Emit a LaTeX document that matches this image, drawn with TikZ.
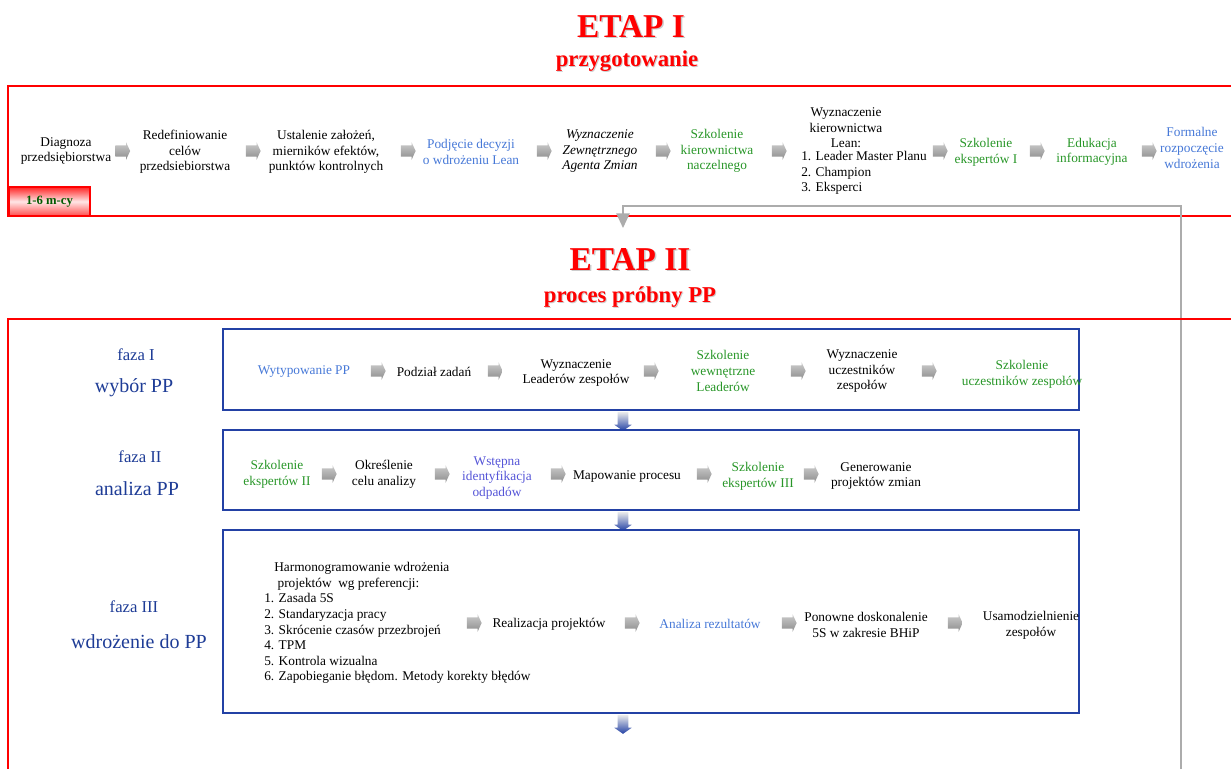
\documentclass[tikz,border=0pt]{standalone}
\usepackage{fontspec}
\setmainfont{Liberation Serif}
\usetikzlibrary{shapes.arrows, arrows.meta}
\definecolor{etapRed}{RGB}{255, 0, 0}
\definecolor{boxBlue}{RGB}{35, 65, 165}
\definecolor{phaseBlue}{RGB}{30, 60, 150}
\definecolor{stepGreen}{RGB}{40, 150, 40}
\definecolor{stepBlue}{RGB}{70, 120, 215}
\definecolor{stepViolet}{RGB}{85, 85, 215}
\definecolor{monthGreen}{RGB}{0, 90, 0}

\begin{document}
\begin{tikzpicture}[x=0.75pt, y=-0.75pt,
    stepText/.style={font=\fontsize{10}{11.7}\selectfont, align=center, inner sep=0pt},
    greenText/.style={stepText, text=stepGreen},
    blueText/.style={stepText, text=stepBlue},
    grayArrow/.style={single arrow, draw=none, inner sep=4pt, minimum height=11pt,
      single arrow head extend=2.4pt, single arrow tip angle=130, top color=gray!40, bottom color=gray!90},
    downArrow/.style={single arrow, draw=none, inner sep=3.75pt, shape border rotate=270, minimum height=14.25pt,
      single arrow head extend=2.6pt, single arrow tip angle=110,
      top color=gray!15, bottom color=boxBlue},
    titleBig/.style={font=\fontsize{25}{30}\selectfont\bfseries, text=etapRed, anchor=base, inner sep=0pt},
    titleSub/.style={font=\fontsize{17}{20}\selectfont\bfseries, text=etapRed, anchor=base, inner sep=0pt},
    titleShadow/.style={text=gray!40},
    fazaText/.style={font=\fontsize{12.5}{15}\selectfont, text=phaseBlue, inner sep=0pt},
    phaseTitle/.style={font=\fontsize{15}{18}\selectfont, text=phaseBlue, inner sep=0pt},
    stageFrame/.style={draw=etapRed, line width=0.9pt},
    phaseBox/.style={draw=boxBlue, line width=0.9pt},
    loopLine/.style={draw=gray!65, line width=1.1pt, -{Triangle[width=10pt, length=11pt]}}]
  \useasboundingbox (0,0) rectangle (1231,769);

  % ETAP I
  \node[titleBig, titleShadow] (etapIShadow) at (632.5,38.5) {ETAP I};
  \node[titleBig] (etapI) at (631,37) {ETAP I};
  \node[titleSub, titleShadow] (prepShadow) at (628,67) {przygotowanie};
  \node[titleSub] (prep) at (627,66) {przygotowanie};
  \draw[stageFrame] (1231,86) -- (8,86) -- (8,216) -- (1231,216);
  \node[draw=etapRed, line width=1pt, minimum width=60.75pt, minimum height=21.75pt, inner sep=0pt,
    top color=etapRed!85, bottom color=etapRed!70, middle color=etapRed!10,
    font=\fontsize{9.5}{11}\selectfont\bfseries, text=monthGreen] (months) at (49.5,201.5) {1-6 m-cy};

  \node[stepText] (diagnoza) at (66,151) {Diagnoza\\przedsiębiorstwa};
  \node[grayArrow] (a1) at (121.5,151) {};
  \node[stepText] (redef) at (185,152) {Redefiniowanie\\celów\\przedsiebiorstwa};
  \node[grayArrow] (a2) at (252,151) {};
  \node[stepText] (ustalenie) at (326,152) {Ustalenie założeń,\\mierników efektów,\\punktów kontrolnych};
  \node[grayArrow] (a3) at (407,151) {};
  \node[blueText] (decyzja) at (471,152) {Podjęcie decyzji\\o wdrożeniu Lean};
  \node[grayArrow] (a4) at (543,151) {};
  \node[stepText, font=\fontsize{10}{11.7}\selectfont\itshape] (agent) at (600,151) {Wyznaczenie\\Zewnętrznego\\Agenta Zmian};
  \node[grayArrow] (a5) at (662,151) {};
  \node[greenText] (szkolKier) at (717,151) {Szkolenie\\kierownictwa\\naczelnego};
  \node[grayArrow] (a6) at (778,151) {};
  \node[stepText] (leanHead) at (846,128) {Wyznaczenie\\kierownictwa\\Lean:};
  \node[stepText, align=left, anchor=west] (leanList) at (801,173) {1. Leader Master Planu\\2. Champion\\3. Eksperci};
  \node[grayArrow] (a7) at (939,151) {};
  \node[greenText] (szkolEksp) at (986,152) {Szkolenie\\ekspertów I};
  \node[grayArrow] (a8) at (1036,151) {};
  \node[greenText] (edukacja) at (1092,152) {Edukacja\\informacyjna};
  \node[grayArrow] (a9) at (1148,151) {};
  \node[blueText] (formalne) at (1192,148) {Formalne\\rozpoczęcie\\wdrożenia};

  % powrot do etapu II
  \coordinate (loopStart) at (1181,769);
  \coordinate (loopTip) at (623,228);
  \draw[loopLine] (loopStart) -- (1181,206) -| (loopTip);

  % ETAP II
  \node[titleBig, titleShadow] (etapIIShadow) at (631.5,271.5) {ETAP II};
  \node[titleBig] (etapII) at (630,270) {ETAP II};
  \node[titleSub, titleShadow] (trialShadow) at (631,303) {proces próbny PP};
  \node[titleSub] (trial) at (630,302) {proces próbny PP};
  \draw[stageFrame] (1231,319) -- (8,319) -- (8,769);

  % faza I
  \node[fazaText] (fazaI) at (136,355) {faza I};
  \node[phaseTitle] (wyborPP) at (134,388) {wybór PP};
  \draw[phaseBox] (223,329) rectangle (1079,410);
  \node[blueText] (wytyp) at (304,372) {Wytypowanie PP};
  \node[grayArrow] (b1) at (377,371) {};
  \node[stepText] (podzial) at (434,372) {Podział zadań};
  \node[grayArrow] (b2) at (494,371) {};
  \node[stepText] (leaderzy) at (576,373) {Wyznaczenie\\Leaderów zespołów};
  \node[grayArrow] (b3) at (650,371) {};
  \node[greenText] (szkolWewn) at (723,371) {Szkolenie\\wewnętrzne\\Leaderów};
  \node[grayArrow] (b4) at (797,371) {};
  \node[stepText] (uczestnicy) at (862,371) {Wyznaczenie\\uczestników\\zespołów};
  \node[grayArrow] (b5) at (928,371) {};
  \node[greenText] (szkolUczest) at (1022,374) {Szkolenie\\uczestników zespołów};
  \node[downArrow] (d1) at (623,419.5) {};

  % faza II
  \node[fazaText] (fazaII) at (140,457) {faza II};
  \node[phaseTitle] (analizaPP) at (137,489) {analiza PP};
  \draw[phaseBox] (223,430) rectangle (1079,510);
  \node[greenText] (szkolEkspII) at (277,474) {Szkolenie\\ekspertów II};
  \node[grayArrow] (c1) at (328,474) {};
  \node[stepText] (cel) at (384,474) {Określenie\\celu analizy};
  \node[grayArrow] (c2) at (441,474) {};
  \node[stepText, text=stepViolet] (odpady) at (497,478) {Wstępna\\identyfikacja\\odpadów};
  \node[grayArrow] (c3) at (557,474) {};
  \node[stepText] (mapowanie) at (627,476) {Mapowanie procesu};
  \node[grayArrow] (c4) at (703,474) {};
  \node[greenText] (szkolEkspIII) at (758,476) {Szkolenie\\ekspertów III};
  \node[grayArrow] (c5) at (810,474) {};
  \node[stepText] (generowanie) at (876,476) {Generowanie\\projektów zmian};
  \node[downArrow] (d2) at (623,519.5) {};

  % faza III
  \node[fazaText] (fazaIII) at (134,607) {faza III};
  \node[phaseTitle] (wdrozeniePP) at (139,642) {wdrożenie do PP};
  \draw[phaseBox] (223,530) rectangle (1079,713);
  \node[stepText, align=left, anchor=west] (harmonogram) at (264,623) {\hspace*{7.5pt}Harmonogramowanie wdrożenia\\
    \hspace*{10pt}projektów\ \ wg preferencji:\\1. Zasada 5S\\2. Standaryzacja pracy\\3. Skrócenie czasów przezbrojeń\\
    4. TPM\\5. Kontrola wizualna\\6. Zapobieganie błędom. Metody korekty błędów};
  \node[grayArrow] (e1) at (473,623) {};
  \node[stepText] (realizacja) at (549,624) {Realizacja projektów};
  \node[grayArrow] (e2) at (631,623) {};
  \node[blueText] (rezultaty) at (710,624) {Analiza rezultatów};
  \node[grayArrow] (e3) at (788,623) {};
  \node[stepText] (ponowne) at (866,625) {Ponowne doskonalenie\\5S w zakresie BHiP};
  \node[grayArrow] (e4) at (954,623) {};
  \node[stepText] (usamodz) at (1031,625) {Usamodzielnienie\\zespołów};
  \node[downArrow] (d3) at (623,722.5) {};
\end{tikzpicture}
\end{document}
